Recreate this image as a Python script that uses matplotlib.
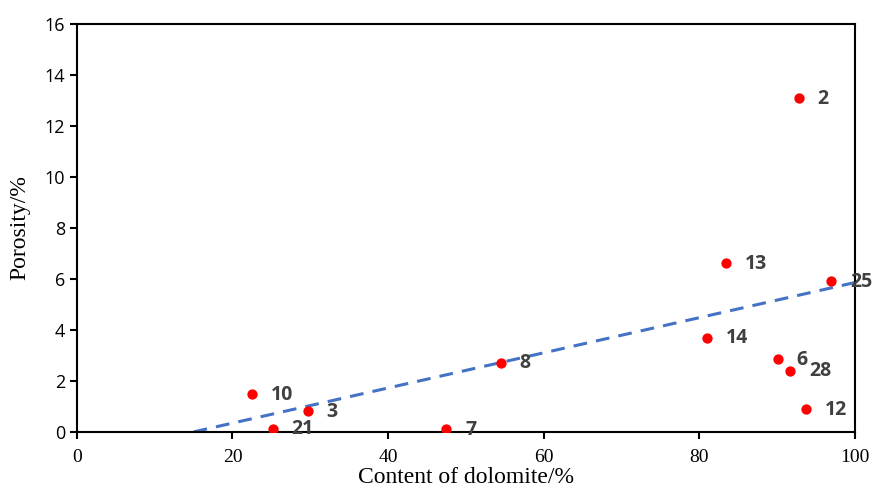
import numpy as np
import matplotlib
matplotlib.use('Agg')
import matplotlib.pyplot as plt

# sample data
labels = ['2', '13', '25', '14', '6', '28', '12', '10', '3', '21', '7', '8']
dolomite = [92.8, 83.4, 97.0, 81.0, 90.1, 91.7, 93.7, 22.5, 29.65, 25.2, 47.5, 54.5]
porosity = [13.1, 6.62, 5.9, 3.70, 2.86, 2.40, 0.90, 1.48, 0.82, 0.13, 0.10, 2.72]

# fitted trend line
fit_x = [15, 100]
fit_slope, fit_intercept = 0.0689, -1.034

fig = plt.figure(figsize=(8.74, 4.88), dpi=100)
ax = fig.add_axes([0.088, 0.115, 0.89, 0.836])

fx = np.array(fit_x)
ax.plot(fx, fit_slope * fx + fit_intercept, ls='--', color='#4472C4', lw=2.2,
        dashes=(4.5, 3), zorder=2)
ax.scatter(dolomite, porosity, s=55, color='#FF0000', zorder=3, linewidths=0)

for lab, x, y in zip(labels, dolomite, porosity):
    ax.annotate(lab, (x, y), xytext=(13.5, -0.5), textcoords='offset points',
                ha='left', va='center', fontsize=14, fontweight='bold',
                color='#404040', family='Open Sans')

ax.set_xlim(0, 100)
ax.set_ylim(0, 16)
ax.set_xticks(range(0, 101, 20))
ax.set_yticks(range(0, 17, 2))
for s in ax.spines.values():
    s.set_linewidth(1.5)
ax.tick_params(direction='out', length=5, width=1.5)
ax.tick_params(axis='x', pad=7)
for t in ax.get_xticklabels():
    t.set_family('Liberation Serif')
    t.set_fontsize(14)
for t in ax.get_yticklabels():
    t.set_family('Open Sans')
    t.set_fontsize(13)
ax.set_xlabel('Content of dolomite/%', family='Liberation Serif', fontsize=17, labelpad=1)
ax.set_ylabel('Porosity/%', family='Liberation Serif', fontsize=17, labelpad=10)

fig.savefig('out.png', dpi=100)
